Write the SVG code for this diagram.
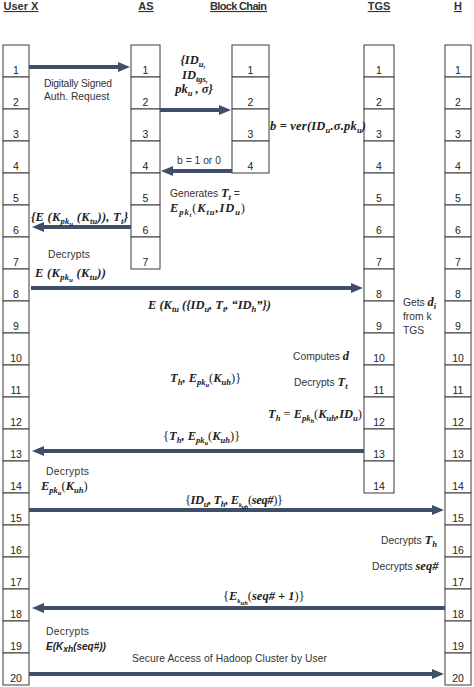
<svg xmlns="http://www.w3.org/2000/svg" width="474" height="687" viewBox="0 0 474 687">
<style>
.cell{fill:#fff;stroke:#3a3a3a;stroke-width:1}
.num{font-family:"Liberation Sans",Arial,sans-serif;font-size:10.5px;text-anchor:middle;fill:#222}
.hd{font-family:"Liberation Sans",Arial,sans-serif;font-weight:bold;font-size:11px;text-decoration:underline;text-anchor:middle;fill:#333}
.lbl{font-family:"Liberation Sans",Arial,sans-serif;font-size:10.3px;fill:#333}
.m{font-family:"Liberation Serif","Times New Roman",serif;font-weight:bold;font-style:italic;font-size:12.5px;fill:#222}
.bi{font-family:"Liberation Sans",Arial,sans-serif;font-weight:bold;font-style:italic;font-size:10px;fill:#222}
.s{font-size:8.5px}
.ss{font-size:6.5px}
.n{font-weight:normal;font-style:normal}
.arr{stroke:#3f4f69;stroke-width:3.8;fill:none;marker-end:url(#ah)}
</style>
<defs>
<marker id="ah" viewBox="0 0 12 10" refX="4" refY="5" markerWidth="12" markerHeight="10" markerUnits="userSpaceOnUse" orient="auto">
<path d="M0,0 L12,5 L0,10 z" fill="#3f4f69"/>
</marker>
</defs>
<rect width="474" height="687" fill="#fff"/>

<g id="headers">
<text class="hd" x="21" y="10">User X</text>
<text class="hd" x="146" y="10">AS</text>
<text class="hd" x="238.5" y="10" textLength="57">Block Chain</text>
<text class="hd" x="379" y="10">TGS</text>
<text class="hd" x="458" y="10">H</text>
</g>

<g id="userx">
<rect class="cell" x="3" y="45" width="26" height="32"/><text class="num" x="16" y="74">1</text>
<rect class="cell" x="3" y="77" width="26" height="32"/><text class="num" x="16" y="106">2</text>
<rect class="cell" x="3" y="109" width="26" height="32"/><text class="num" x="16" y="138">3</text>
<rect class="cell" x="3" y="141" width="26" height="32"/><text class="num" x="16" y="170">4</text>
<rect class="cell" x="3" y="173" width="26" height="32"/><text class="num" x="16" y="202">5</text>
<rect class="cell" x="3" y="205" width="26" height="32"/><text class="num" x="16" y="234">6</text>
<rect class="cell" x="3" y="237" width="26" height="32"/><text class="num" x="16" y="266">7</text>
<rect class="cell" x="3" y="269" width="26" height="32"/><text class="num" x="16" y="298">8</text>
<rect class="cell" x="3" y="301" width="26" height="32"/><text class="num" x="16" y="330">9</text>
<rect class="cell" x="3" y="333" width="26" height="32"/><text class="num" x="16" y="362">10</text>
<rect class="cell" x="3" y="365" width="26" height="32"/><text class="num" x="16" y="394">11</text>
<rect class="cell" x="3" y="397" width="26" height="32"/><text class="num" x="16" y="426">12</text>
<rect class="cell" x="3" y="429" width="26" height="32"/><text class="num" x="16" y="458">13</text>
<rect class="cell" x="3" y="461" width="26" height="32"/><text class="num" x="16" y="490">14</text>
<rect class="cell" x="3" y="493" width="26" height="32"/><text class="num" x="16" y="522">15</text>
<rect class="cell" x="3" y="525" width="26" height="32"/><text class="num" x="16" y="554">16</text>
<rect class="cell" x="3" y="557" width="26" height="32"/><text class="num" x="16" y="586">17</text>
<rect class="cell" x="3" y="589" width="26" height="32"/><text class="num" x="16" y="618">18</text>
<rect class="cell" x="3" y="621" width="26" height="32"/><text class="num" x="16" y="650">19</text>
<rect class="cell" x="3" y="653" width="26" height="32"/><text class="num" x="16" y="682">20</text>
</g>

<g id="as">
<rect class="cell" x="131" y="45" width="29" height="32"/><text class="num" x="145.5" y="74">1</text>
<rect class="cell" x="131" y="77" width="29" height="32"/><text class="num" x="145.5" y="106">2</text>
<rect class="cell" x="131" y="109" width="29" height="32"/><text class="num" x="145.5" y="138">3</text>
<rect class="cell" x="131" y="141" width="29" height="32"/><text class="num" x="145.5" y="170">4</text>
<rect class="cell" x="131" y="173" width="29" height="32"/><text class="num" x="145.5" y="202">5</text>
<rect class="cell" x="131" y="205" width="29" height="32"/><text class="num" x="145.5" y="234">6</text>
<rect class="cell" x="131" y="237" width="29" height="32"/><text class="num" x="145.5" y="266">7</text>
</g>

<g id="blockchain">
<rect class="cell" x="232" y="45" width="37" height="32"/><text class="num" x="250.5" y="74">1</text>
<rect class="cell" x="232" y="77" width="37" height="32"/><text class="num" x="250.5" y="106">2</text>
<rect class="cell" x="232" y="109" width="37" height="32"/><text class="num" x="250.5" y="138">3</text>
<rect class="cell" x="232" y="141" width="37" height="32"/><text class="num" x="250.5" y="170">4</text>
</g>

<g id="tgs">
<rect class="cell" x="364" y="45" width="30" height="32"/><text class="num" x="379" y="74">1</text>
<rect class="cell" x="364" y="77" width="30" height="32"/><text class="num" x="379" y="106">2</text>
<rect class="cell" x="364" y="109" width="30" height="32"/><text class="num" x="379" y="138">3</text>
<rect class="cell" x="364" y="141" width="30" height="32"/><text class="num" x="379" y="170">4</text>
<rect class="cell" x="364" y="173" width="30" height="32"/><text class="num" x="379" y="202">5</text>
<rect class="cell" x="364" y="205" width="30" height="32"/><text class="num" x="379" y="234">6</text>
<rect class="cell" x="364" y="237" width="30" height="32"/><text class="num" x="379" y="266">7</text>
<rect class="cell" x="364" y="269" width="30" height="32"/><text class="num" x="379" y="298">8</text>
<rect class="cell" x="364" y="301" width="30" height="32"/><text class="num" x="379" y="330">9</text>
<rect class="cell" x="364" y="333" width="30" height="32"/><text class="num" x="379" y="362">10</text>
<rect class="cell" x="364" y="365" width="30" height="32"/><text class="num" x="379" y="394">11</text>
<rect class="cell" x="364" y="397" width="30" height="32"/><text class="num" x="379" y="426">12</text>
<rect class="cell" x="364" y="429" width="30" height="32"/><text class="num" x="379" y="458">13</text>
<rect class="cell" x="364" y="461" width="30" height="32"/><text class="num" x="379" y="490">14</text>
</g>

<g id="h">
<rect class="cell" x="445" y="45" width="26" height="32"/><text class="num" x="458" y="74">1</text>
<rect class="cell" x="445" y="77" width="26" height="32"/><text class="num" x="458" y="106">2</text>
<rect class="cell" x="445" y="109" width="26" height="32"/><text class="num" x="458" y="138">3</text>
<rect class="cell" x="445" y="141" width="26" height="32"/><text class="num" x="458" y="170">4</text>
<rect class="cell" x="445" y="173" width="26" height="32"/><text class="num" x="458" y="202">5</text>
<rect class="cell" x="445" y="205" width="26" height="32"/><text class="num" x="458" y="234">6</text>
<rect class="cell" x="445" y="237" width="26" height="32"/><text class="num" x="458" y="266">7</text>
<rect class="cell" x="445" y="269" width="26" height="32"/><text class="num" x="458" y="298">8</text>
<rect class="cell" x="445" y="301" width="26" height="32"/><text class="num" x="458" y="330">9</text>
<rect class="cell" x="445" y="333" width="26" height="32"/><text class="num" x="458" y="362">10</text>
<rect class="cell" x="445" y="365" width="26" height="32"/><text class="num" x="458" y="394">11</text>
<rect class="cell" x="445" y="397" width="26" height="32"/><text class="num" x="458" y="426">12</text>
<rect class="cell" x="445" y="429" width="26" height="32"/><text class="num" x="458" y="458">13</text>
<rect class="cell" x="445" y="461" width="26" height="32"/><text class="num" x="458" y="490">14</text>
<rect class="cell" x="445" y="493" width="26" height="32"/><text class="num" x="458" y="522">15</text>
<rect class="cell" x="445" y="525" width="26" height="32"/><text class="num" x="458" y="554">16</text>
<rect class="cell" x="445" y="557" width="26" height="32"/><text class="num" x="458" y="586">17</text>
<rect class="cell" x="445" y="589" width="26" height="32"/><text class="num" x="458" y="618">18</text>
<rect class="cell" x="445" y="621" width="26" height="32"/><text class="num" x="458" y="650">19</text>
<rect class="cell" x="445" y="653" width="26" height="32"/><text class="num" x="458" y="682">20</text>
</g>

<g id="connectors">
<line class="arr" x1="29" y1="67" x2="122" y2="67"/>
<line class="arr" x1="160" y1="110" x2="223" y2="110"/>
<line class="arr" x1="232" y1="171" x2="169" y2="171"/>
<line class="arr" x1="131" y1="227" x2="40" y2="227"/>
<line class="arr" x1="31" y1="288" x2="355" y2="288"/>
<line class="arr" x1="364" y1="451" x2="40" y2="451"/>
<line class="arr" x1="29" y1="510" x2="436" y2="510"/>
<line class="arr" x1="445" y1="608" x2="40" y2="608"/>
<line class="arr" x1="29" y1="674" x2="436" y2="674"/>
</g>

<g id="labels">
<text class="lbl" x="44" y="87" textLength="68">Digitally Signed</text>
<text class="lbl" x="44" y="100">Auth. Request</text>

<text class="m" x="193" y="64" text-anchor="middle">{ID<tspan class="s" dy="2.5">u,</tspan></text>
<text class="m" x="195" y="79" text-anchor="middle">ID<tspan class="s" dy="2.5">tgs,</tspan></text>
<text class="m" x="194" y="93" text-anchor="middle">pk<tspan class="s" dy="2.5">u</tspan><tspan dy="-2.5"> , σ}</tspan></text>

<text class="m" x="270" y="130" textLength="96">b = ver(ID<tspan class="s" dy="3">u</tspan><tspan dy="-3">.σ.pk</tspan><tspan class="s" dy="3">u</tspan><tspan dy="-3">)</tspan></text>

<text class="lbl" x="199" y="164" text-anchor="middle">b = 1 or 0</text>

<text class="lbl" x="170" y="197">Generates <tspan class="m">T</tspan><tspan class="m s" dy="3">t</tspan><tspan dy="-3"> =</tspan></text>
<text class="m" x="170" y="212" textLength="75">E<tspan class="s" dy="3">pk</tspan><tspan class="ss" dy="2">t</tspan><tspan dy="-5" class="n">(</tspan>K<tspan class="s" dy="3">tu</tspan><tspan dy="-3">,ID</tspan><tspan class="s" dy="3">u</tspan><tspan dy="-3" class="n">)</tspan></text>

<text class="m" x="31" y="221" textLength="97">{E (K<tspan class="s" dy="3">pk</tspan><tspan class="ss" dy="2">u</tspan><tspan dy="-5"> (K</tspan><tspan class="s" dy="3">tu</tspan><tspan dy="-3">)), T</tspan><tspan class="s" dy="3">t</tspan><tspan dy="-3">}</tspan></text>

<text class="lbl" x="48" y="258" textLength="42">Decrypts</text>
<text class="m" x="35" y="277" textLength="71">E (K<tspan class="s" dy="3">pk</tspan><tspan class="ss" dy="2">u</tspan><tspan dy="-5"> (K</tspan><tspan class="s" dy="3">tu</tspan><tspan dy="-3">))</tspan></text>

<text class="m" x="148" y="309" textLength="123">E (K<tspan class="s" dy="3">tu</tspan><tspan dy="-3"> ({ID</tspan><tspan class="s" dy="3">u</tspan><tspan dy="-3">, T</tspan><tspan class="s" dy="3">t</tspan><tspan dy="-3">, “ID</tspan><tspan class="s" dy="3">h</tspan><tspan dy="-3">”})</tspan></text>

<text class="lbl" x="403" y="306">Gets <tspan class="m">d</tspan><tspan class="m s" dy="3">i</tspan></text>
<text class="lbl" x="403" y="320">from k</text>
<text class="lbl" x="403" y="334">TGS</text>

<text class="lbl" x="293" y="360">Computes  <tspan class="m">d</tspan></text>

<text class="m" x="170" y="382" font-size="14">T<tspan class="s" dy="3" font-size="9.5">h</tspan><tspan dy="-3">, E</tspan><tspan class="s" dy="3" font-size="9.5">pk</tspan><tspan class="ss" dy="2" font-size="7">u</tspan><tspan dy="-5" class="n">(</tspan>K<tspan class="s" dy="3" font-size="9.5">uh</tspan><tspan dy="-3" class="n">)}</tspan></text>

<text class="lbl" x="294" y="386">Decrypts <tspan class="m">T</tspan><tspan class="m s" dy="3">t</tspan></text>

<text class="m" x="268" y="418" textLength="94">T<tspan class="s" dy="3">h</tspan><tspan dy="-3" class="n"> = </tspan>E<tspan class="s" dy="3">pk</tspan><tspan class="ss" dy="2">h</tspan><tspan dy="-5" class="n">(</tspan>K<tspan class="s" dy="3">uh</tspan><tspan dy="-3">,ID</tspan><tspan class="s" dy="3">u</tspan><tspan dy="-3" class="n">)</tspan></text>

<text class="m" x="163" y="440"><tspan class="n">{</tspan>T<tspan class="s" dy="3">h</tspan><tspan dy="-3">, E</tspan><tspan class="s" dy="3">pk</tspan><tspan class="ss" dy="2">u</tspan><tspan dy="-5" class="n">(</tspan>K<tspan class="s" dy="3">uh</tspan><tspan dy="-3" class="n">)}</tspan></text>

<text class="lbl" x="46" y="475" textLength="43">Decrypts</text>
<text class="m" x="41" y="490">E<tspan class="s" dy="3">pk</tspan><tspan class="ss" dy="2">u</tspan><tspan dy="-5" class="n">(</tspan>K<tspan class="s" dy="3">uh</tspan><tspan dy="-3" class="n">)</tspan></text>

<text class="m" x="185" y="504" font-size="11" textLength="98"><tspan class="n">{</tspan>ID<tspan class="s" dy="3">u</tspan><tspan dy="-3">, T</tspan><tspan class="s" dy="3">h</tspan><tspan dy="-3">, E</tspan><tspan class="ss" dy="3">k</tspan><tspan class="ss" dy="1.5">uh</tspan><tspan dy="-4.5" class="n">(</tspan>seq#<tspan class="n">)}</tspan></text>

<text class="lbl" x="381" y="544">Decrypts <tspan class="m">T</tspan><tspan class="m s" dy="3">h</tspan></text>

<text class="lbl" x="372" y="570">Decrypts <tspan class="m">seq#</tspan></text>

<text class="m" x="223" y="600" font-size="10"><tspan class="n">{</tspan>E<tspan class="ss" dy="3">k</tspan><tspan class="ss" dy="1.5">uh</tspan><tspan dy="-4.5" class="n">(</tspan>seq# + 1<tspan class="n">)}</tspan></text>

<text class="lbl" x="46" y="635" textLength="43">Decrypts</text>
<text class="bi" x="46" y="650">E(K<tspan class="s" dy="2">xh</tspan><tspan dy="-2">(seq#))</tspan></text>

<text class="lbl" x="132" y="662" textLength="195">Secure Access of Hadoop Cluster by User</text>
</g>
</svg>
